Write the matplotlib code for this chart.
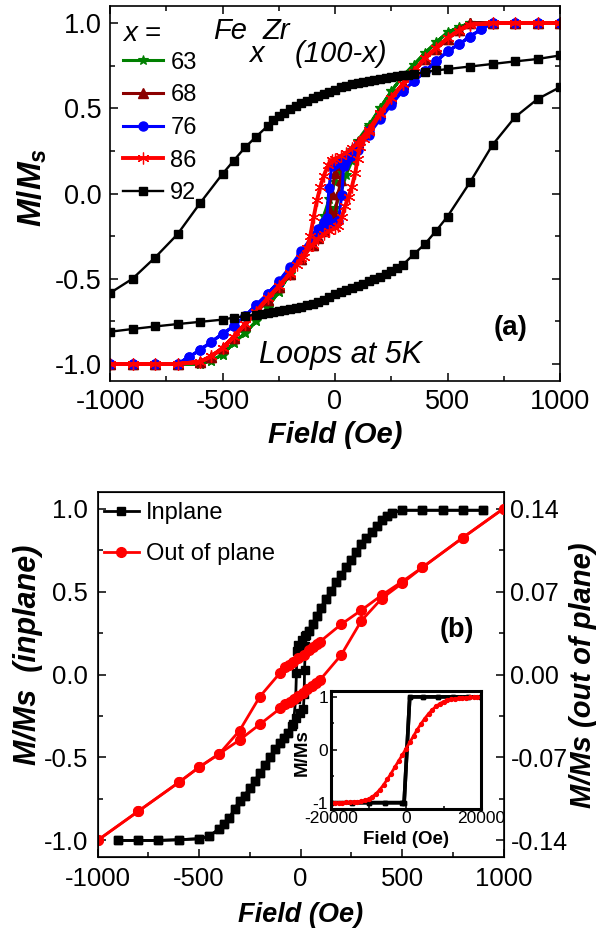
import matplotlib
matplotlib.use("Agg")
import matplotlib.pyplot as plt
from matplotlib.ticker import MultipleLocator, FixedLocator, FormatStrFormatter

plt.rcParams['font.family'] = ['Liberation Sans', 'DejaVu Sans']
plt.rcParams['axes.unicode_minus'] = False
plt.rcParams['mathtext.fontset'] = 'custom'
plt.rcParams['mathtext.it'] = 'Liberation Sans:italic:bold'
plt.rcParams['mathtext.rm'] = 'Liberation Sans:bold'
plt.rcParams['mathtext.bf'] = 'Liberation Sans:bold'

# ---------------- Panel (a) data : Fe_x Zr_(100-x) loops at 5 K ----------------
H63_dn = [1000, 900, 800, 700, 600, 550, 500, 450, 400, 350, 300, 250, 200, 150, 100, 75, 50, 25, 0,
          -25, -50, -75, -100, -150, -200, -250, -300, -350, -400, -450, -500, -550, -600, -700, -800, -900, -1000]
M63_dn = [1.0, 1.0, 1.0, 1.0, 1.0, 0.975, 0.945, 0.887, 0.824, 0.755, 0.687, 0.60, 0.50, 0.40, 0.31, 0.255, 0.20, 0.14, 0.07,
          -0.03, -0.13, -0.21, -0.27, -0.37, -0.47, -0.575, -0.67, -0.748, -0.82, -0.875, -0.947, -0.98, -1.0, -1.0, -1.0, -1.0, -1.0]
H63_up = [-1000, -900, -800, -700, -600, -550, -500, -450, -400, -350, -300, -250, -200, -150, -100, -75, -50, -25, 0,
          25, 50, 75, 100, 150, 200, 250, 300, 350, 400, 450, 500, 550, 600, 700, 800, 900, 1000]
M63_up = [-1.0, -1.0, -1.0, -1.0, -1.0, -0.98, -0.947, -0.875, -0.82, -0.748, -0.67, -0.575, -0.47, -0.38, -0.29, -0.23, -0.18, -0.13, -0.085,
          0.0, 0.11, 0.19, 0.27, 0.39, 0.50, 0.60, 0.687, 0.755, 0.824, 0.887, 0.945, 0.975, 1.0, 1.0, 1.0, 1.0, 1.0]

H68_dn = [1000, 900, 800, 700, 600, 550, 500, 450, 400, 350, 300, 250, 200, 150, 100, 75, 50, 25, 0, -15,
          -25, -37, -50, -75, -100, -150, -200, -250, -300, -350, -400, -450, -500, -550, -600, -700, -800, -900, -1000]
M68_dn = [1.0, 1.0, 1.0, 1.0, 1.0, 0.96, 0.905, 0.85, 0.79, 0.72, 0.64, 0.56, 0.47, 0.38, 0.30, 0.26, 0.22, 0.18, 0.12, 0.0,
          -0.09, -0.18, -0.215, -0.255, -0.30, -0.385, -0.47, -0.55, -0.625, -0.70, -0.77, -0.845, -0.905, -0.96, -0.99, -1.0, -1.0, -1.0, -1.0]
H68_up = [-1000, -900, -800, -700, -600, -550, -500, -450, -400, -350, -300, -250, -200, -150, -100, -75, -50, -25, 0, 15,
          25, 37, 50, 75, 100, 150, 200, 250, 300, 350, 400, 450, 500, 550, 600, 700, 800, 900, 1000]
M68_up = [-1.0, -1.0, -1.0, -1.0, -0.99, -0.96, -0.905, -0.845, -0.77, -0.70, -0.625, -0.55, -0.47, -0.385, -0.30, -0.26, -0.22, -0.18, -0.12, 0.0,
          0.08, 0.17, 0.215, 0.255, 0.30, 0.38, 0.47, 0.56, 0.64, 0.72, 0.79, 0.85, 0.905, 0.96, 1.0, 1.0, 1.0, 1.0, 1.0]

H76_dn = [1000, 900, 800, 700, 650, 600, 550, 500, 450, 400, 350, 300, 250, 200, 150, 100, 75, 50, 25, 0, -15,
          -27, -36, -50, -75, -100, -150, -200, -250, -300, -350, -400, -450, -500, -550, -600, -650, -700, -800, -900, -1000]
M76_dn = [1.0, 1.0, 1.0, 1.0, 0.965, 0.92, 0.875, 0.834, 0.775, 0.716, 0.658, 0.60, 0.53, 0.45, 0.365, 0.285, 0.25, 0.22, 0.195, 0.175, 0.16,
          0.03, -0.145, -0.17, -0.21, -0.25, -0.34, -0.43, -0.515, -0.59, -0.654, -0.72, -0.778, -0.824, -0.87, -0.918, -0.96, -1.0, -1.0, -1.0, -1.0]
H76_up = [-1000, -900, -800, -700, -650, -600, -550, -500, -450, -400, -350, -300, -250, -200, -150, -100, -75, -50, -25, 0,
          15, 30, 38, 50, 75, 100, 150, 200, 250, 300, 350, 400, 450, 500, 550, 600, 650, 700, 800, 900, 1000]
M76_up = [-1.0, -1.0, -1.0, -1.0, -0.96, -0.918, -0.87, -0.824, -0.778, -0.72, -0.654, -0.59, -0.52, -0.44, -0.355, -0.275, -0.24, -0.21, -0.19, -0.175,
          -0.16, -0.01, 0.16, 0.19, 0.22, 0.255, 0.345, 0.435, 0.52, 0.60, 0.658, 0.716, 0.775, 0.834, 0.875, 0.92, 0.965, 1.0, 1.0, 1.0, 1.0]

H86_dn = [1000, 900, 800, 700, 600, 550, 500, 450, 400, 350, 300, 250, 200, 150, 100, 75, 50, 25, 0, -15,
          -30, -50, -65, -80, -95, -110, -125, -140, -170, -200, -250, -300, -350, -400, -450, -500, -550, -600, -700, -800, -900, -1000]
M86_dn = [1.0, 1.0, 1.0, 1.0, 0.99, 0.955, 0.912, 0.853, 0.795, 0.715, 0.64, 0.56, 0.47, 0.375, 0.295, 0.265, 0.24, 0.22, 0.205, 0.195,
          0.165, 0.105, 0.04, -0.04, -0.14, -0.25, -0.32, -0.37, -0.42, -0.47, -0.545, -0.615, -0.693, -0.766, -0.84, -0.908, -0.955, -0.987, -1.0, -1.0, -1.0, -1.0]
H86_up = [-1000, -900, -800, -700, -600, -550, -500, -450, -400, -350, -300, -250, -200, -150, -100, -75, -50, -25, 0, 15,
          30, 45, 60, 75, 90, 100, 110, 130, 150, 200, 250, 300, 350, 400, 450, 500, 550, 600, 700, 800, 900, 1000]
M86_up = [-1.0, -1.0, -1.0, -1.0, -0.987, -0.955, -0.908, -0.84, -0.766, -0.693, -0.615, -0.545, -0.468, -0.38, -0.30, -0.265, -0.24, -0.22, -0.205, -0.19,
          -0.14, -0.075, -0.02, 0.04, 0.12, 0.20, 0.27, 0.32, 0.36, 0.465, 0.56, 0.64, 0.715, 0.795, 0.853, 0.912, 0.955, 0.99, 1.0, 1.0, 1.0, 1.0]

H92_dn = [1000, 900, 800, 700, 600, 500, 450, 400, 350, 325, 300, 275, 250, 225, 200, 175, 150, 125, 100, 75, 50, 25, 0,
          -25, -50, -75, -100, -125, -150, -175, -200, -225, -250, -275, -300, -350, -400, -450, -500, -600, -700, -800, -900, -1000]
M92_dn = [0.81, 0.789, 0.775, 0.76, 0.745, 0.73, 0.722, 0.713, 0.70, 0.697, 0.693, 0.688, 0.682, 0.676, 0.67, 0.665, 0.66, 0.655, 0.648, 0.64, 0.632, 0.622, 0.61,
          0.597, 0.585, 0.572, 0.558, 0.545, 0.53, 0.515, 0.495, 0.475, 0.455, 0.43, 0.395, 0.334, 0.27, 0.193, 0.115, -0.057, -0.239, -0.376, -0.50, -0.584]
H92_up = [-1000, -900, -800, -700, -600, -500, -450, -400, -350, -325, -300, -275, -250, -225, -200, -175, -150, -125, -100, -75, -50, -25, 0,
          25, 50, 75, 100, 125, 150, 175, 200, 225, 250, 275, 300, 350, 400, 450, 500, 600, 700, 800, 900, 1000]
M92_up = [-0.811, -0.795, -0.78, -0.766, -0.753, -0.74, -0.728, -0.72, -0.71, -0.706, -0.702, -0.697, -0.692, -0.686, -0.68, -0.673, -0.665, -0.657, -0.648, -0.638, -0.625, -0.61, -0.59,
          -0.578, -0.565, -0.552, -0.54, -0.528, -0.515, -0.50, -0.488, -0.47, -0.455, -0.437, -0.42, -0.357, -0.296, -0.218, -0.135, 0.066, 0.285, 0.448, 0.554, 0.624]

compositions = ['63', '68', '76', '86', '92']

# ---------------- Panel (b) data ----------------
H_in_dn = [900, 800, 700, 600, 500, 450, 425, 400, 375, 350, 325, 300, 275, 250, 225, 200, 175, 150, 125, 100, 80, 60, 40, 20, 6,
           -10, -18, -20, -24, -35, -60, -80, -100, -125, -150, -175, -200, -225, -250, -275, -300, -325, -350, -375, -400, -450, -500, -600, -700, -800, -900]
M_in_dn = [0.99, 0.99, 0.99, 0.99, 0.99, 0.975, 0.955, 0.93, 0.895, 0.86, 0.82, 0.785, 0.74, 0.69, 0.645, 0.60, 0.555, 0.505, 0.455, 0.40, 0.35, 0.305, 0.265, 0.235, 0.21,
           0.18, 0.14, 0.01, -0.15, -0.30, -0.355, -0.385, -0.415, -0.45, -0.495, -0.545, -0.595, -0.64, -0.685, -0.73, -0.765, -0.81, -0.865, -0.90, -0.93, -0.975, -0.99, -0.996, -1.0, -1.0, -1.0]
H_in_up = [-900, -800, -700, -600, -500, -450, -400, -375, -350, -325, -300, -275, -250, -225, -200, -175, -150, -125, -100, -80, -60, -40, -20, -2, 14,
           18, 20, 24, 28, 40, 60, 80, 100, 125, 150, 175, 200, 225, 250, 275, 300, 325, 350, 375, 400, 425, 450, 500, 600, 700, 800, 900]
M_in_up = [-1.0, -1.0, -1.0, -0.996, -0.99, -0.975, -0.93, -0.90, -0.865, -0.81, -0.765, -0.73, -0.685, -0.64, -0.595, -0.545, -0.495, -0.45, -0.415, -0.385, -0.355, -0.31, -0.26, -0.23, -0.21,
           -0.12, 0.03, 0.17, 0.24, 0.265, 0.305, 0.35, 0.40, 0.455, 0.505, 0.555, 0.60, 0.645, 0.69, 0.74, 0.785, 0.82, 0.86, 0.895, 0.93, 0.955, 0.975, 0.99, 0.99, 0.99, 0.99, 0.99]

H_op_dn = [1000, 800, 600, 500, 400, 300, 200, 96, 80, 60, 40, 15, -10, -35, -55, -76, -100, -200, -300, -400, -500, -600, -800, -1000]
M_op_dn = [0.140, 0.1155, 0.0903, 0.0783, 0.0669, 0.0543, 0.0423, 0.0277, 0.0256, 0.0234, 0.0206, 0.0164, 0.0136, 0.0108, 0.0080, 0.0066, 0.0015, -0.0186, -0.0473, -0.0669, -0.0783, -0.0911, -0.1155, -0.140]
H_op_up = [-1000, -800, -600, -500, -400, -300, -200, -100, -76, -52, -32, -10, 11, 30, 55, 76, 96, 200, 300, 400, 500, 600, 800, 1000]
M_op_up = [-0.140, -0.1155, -0.0911, -0.0783, -0.0669, -0.0552, -0.042, -0.0286, -0.0249, -0.0230, -0.0207, -0.0182, -0.0154, -0.0126, -0.0098, -0.0070, -0.0046, 0.0164, 0.0454, 0.0641, 0.0769, 0.0903, 0.1155, 0.140]

# inset (large field range)
Hi_blk_dn = [20000, 16500, 12500, 8500, 4500, 1000, -500, -1000, -5500, -10000, -14500, -20000]
Mi_blk_dn = [1, 1, 1, 1, 1, 1, -1, -1, -1, -1, -1, -1]
Hi_blk_up = [-20000, -14500, -10000, -5500, -1000, -500, 1000, 4500, 8500, 12500, 16500, 20000]
Mi_blk_up = [-1, -1, -1, -1, -1, -1, 1, 1, 1, 1, 1, 1]
Hi_red = [-20000, -19000, -18000, -17000, -16000, -15000, -14000, -13000, -12000, -11000, -10000, -9000, -8000, -7000,
          -6000, -5000, -4000, -3000, -2000, -1000, 0, 1000, 2000, 3000, 4000, 5000, 6000, 7000, 8000, 9000, 10000,
          11000, 12000, 13000, 14000, 15000, 16000, 17000, 18000, 19000, 20000]
Mi_red = [-1.0, -1.0, -1.0, -1.0, -0.995, -0.995, -0.99, -0.985, -0.975, -0.955, -0.93, -0.89, -0.83, -0.755,
          -0.665, -0.56, -0.45, -0.33, -0.215, -0.10, 0.02, 0.14, 0.26, 0.38, 0.49, 0.59, 0.68, 0.755, 0.82, 0.87, 0.91,
          0.935, 0.955, 0.965, 0.975, 0.98, 0.985, 0.99, 0.99, 0.99, 0.99]

W, Hh = 604, 933
fig = plt.figure(figsize=(W / 100, Hh / 100), dpi=100)

def frac(l, t, r, b):
    return [l / W, 1 - b / Hh, (r - l) / W, (b - t) / Hh]

# ---------------- Panel (a) ----------------
axA = fig.add_axes(frac(110, 6, 560, 381))
styles = {
    '63': dict(color='#008000', marker='*', ms=7.5, lw=2.2, mew=0.8),
    '68': dict(color='#8b0000', marker='^', ms=6.5, lw=2.2),
    '76': dict(color='#0000ff', marker='o', ms=6.5, lw=2.2),
    '86': dict(color='#ff0000', marker=(6, 2, 0), ms=8.5, lw=2.8, mew=0.9),
    '92': dict(color='black', marker='s', ms=5.5, lw=1.7),
}
data_a = {
    '63': (H63_dn, M63_dn, H63_up, M63_up),
    '68': (H68_dn, M68_dn, H68_up, M68_up),
    '76': (H76_dn, M76_dn, H76_up, M76_up),
    '86': (H86_dn, M86_dn, H86_up, M86_up),
}
handles = []
for c in compositions[:4]:
    hd, md, hu, mu = data_a[c]
    ln, = axA.plot(list(hd) + list(hu), list(md) + list(mu), label=c, **styles[c])
    handles.append(ln)
ln92, = axA.plot(H92_dn, M92_dn, label='92', **styles['92'])
axA.plot(H92_up, M92_up, **styles['92'])
handles.append(ln92)

axA.set_xlim(-1000, 1000)
axA.set_ylim(-1.1, 1.1)
axA.xaxis.set_major_locator(MultipleLocator(500))
axA.xaxis.set_minor_locator(MultipleLocator(250))
axA.yaxis.set_major_locator(MultipleLocator(0.5))
axA.yaxis.set_minor_locator(MultipleLocator(0.25))
axA.yaxis.set_major_formatter(FormatStrFormatter('%.1f'))
axA.tick_params(which='both', direction='in', top=True, right=True, width=1.1)
axA.tick_params(which='major', length=6, labelsize=19.5, pad=6)
axA.tick_params(which='minor', length=3.5)
for s in axA.spines.values():
    s.set_linewidth(1.2)
axA.set_xlabel('Field (Oe)', fontsize=21, fontweight='bold', style='italic')
axA.xaxis.label.set_va('center')
axA.xaxis.set_label_coords(0.5, -0.144)
axA.set_ylabel(r'$M/M_s$', fontsize=24)
axA.yaxis.label.set_rotation_mode('default')
axA.yaxis.label.set_va('center')
axA.yaxis.set_label_coords(-0.172, 0.517)

axA.legend(handles=handles, labels=compositions, loc='upper left', bbox_to_anchor=(0.029, 0.878),
           frameon=False, fontsize=17, handlelength=1.7, handletextpad=0.3, labelspacing=0.45,
           borderpad=0, borderaxespad=0)
axA.text(0.029, 0.925, 'x =', transform=axA.transAxes, fontsize=20, style='italic', va='center', ha='left')

tk = dict(transform=axA.transAxes, fontsize=21, style='italic', va='baseline', ha='left')
axA.text(0.229, 0.912, 'Fe', **tk)
axA.text(0.309, 0.851, 'x', **tk)
axA.text(0.34, 0.912, 'Zr', **tk)
axA.text(0.411, 0.851, '(100-x)', **tk)
axA.text(0.331, 0.048, 'Loops at 5K', transform=axA.transAxes, fontsize=22, style='italic', va='baseline', ha='left')
axA.text(0.853, 0.123, '(a)', transform=axA.transAxes, fontsize=20, fontweight='bold', va='baseline', ha='left')

# ---------------- Panel (b) ----------------
axB = fig.add_axes(frac(97.5, 492, 503.5, 857))
lb, = axB.plot(H_in_dn, M_in_dn, color='black', marker='s', ms=6, lw=2.0, label='Inplane')
axB.plot(H_in_up, M_in_up, color='black', marker='s', ms=6, lw=2.0)
axB.set_xlim(-1000, 1000)
axB.set_ylim(-1.1, 1.1)
axB.xaxis.set_major_locator(MultipleLocator(500))
axB.xaxis.set_minor_locator(MultipleLocator(250))
axB.yaxis.set_major_locator(MultipleLocator(0.5))
axB.yaxis.set_minor_locator(MultipleLocator(0.25))
axB.yaxis.set_major_formatter(FormatStrFormatter('%.1f'))
axB.tick_params(which='both', direction='in', top=False, right=False, width=1.1)
axB.tick_params(which='major', length=6, labelsize=18.5, pad=7)
axB.tick_params(which='minor', length=3.5)
for s in axB.spines.values():
    s.set_linewidth(1.2)
axB.set_xlabel('Field (Oe)', fontsize=19.5, fontweight='bold', style='italic')
axB.xaxis.label.set_va('center')
axB.xaxis.set_label_coords(0.5, -0.159)
axB.set_ylabel('M/Ms  (inplane)', fontsize=22, fontweight='bold', style='italic')
axB.yaxis.label.set_rotation_mode('default')
axB.yaxis.label.set_va('center')
axB.yaxis.set_label_coords(-0.172, 0.553)

axB2 = axB.twinx()
lr, = axB2.plot(H_op_dn, M_op_dn, color='#ff0000', marker='o', ms=7, lw=2.0, label='Out of plane')
axB2.plot(H_op_up, M_op_up, color='#ff0000', marker='o', ms=7, lw=2.0)
axB2.set_ylim(-0.154, 0.154)
axB2.yaxis.set_major_locator(FixedLocator([-0.14, -0.07, 0.0, 0.07, 0.14]))
axB2.yaxis.set_minor_locator(FixedLocator([-0.105, -0.035, 0.035, 0.105]))
axB2.yaxis.set_major_formatter(FormatStrFormatter('%.2f'))
axB2.tick_params(which='both', direction='in', width=1.1)
axB2.tick_params(which='major', length=6, labelsize=18, pad=5)
axB2.tick_params(which='minor', length=3.5)
axB2.set_ylabel('M/Ms (out of plane)', fontsize=21, fontweight='bold', style='italic')
axB2.yaxis.label.set_rotation(90)
axB2.yaxis.label.set_rotation_mode('default')
axB2.yaxis.label.set_va('center')
axB2.yaxis.set_label_coords(1.197, 0.499)

axB2.legend(handles=[lb, lr], loc='upper left', bbox_to_anchor=(0.015, 0.972), frameon=False, fontsize=17,
            handlelength=1.5, handletextpad=0.3, labelspacing=0.8, borderpad=0, borderaxespad=0)
axB2.text(0.8436, 0.603, '(b)', transform=axB.transAxes, fontsize=19.5, fontweight='bold', va='baseline', ha='left')

# ---------------- Inset ----------------
axI = fig.add_axes(frac(331, 691, 481, 808.5))
axI.plot(Hi_blk_dn, Mi_blk_dn, color='black', marker='s', ms=2.5, lw=2.6)
axI.plot(Hi_blk_up, Mi_blk_up, color='black', marker='s', ms=2.5, lw=2.6)
axI.plot(Hi_red, Mi_red, color='#ff0000', marker='o', ms=2.8, lw=2.0)
axI.set_xlim(-20000, 20000)
axI.set_ylim(-1.11, 1.11)
axI.xaxis.set_major_locator(FixedLocator([-20000, 0, 20000]))
axI.xaxis.set_minor_locator(FixedLocator([-10000, 10000]))
axI.yaxis.set_major_locator(FixedLocator([-1, 0, 1]))
axI.yaxis.set_minor_locator(FixedLocator([-0.5, 0.5]))
axI.tick_params(which='both', direction='in', width=1.1)
axI.tick_params(which='major', length=4, labelsize=12.5, pad=2)
axI.tick_params(which='minor', length=2.5)
for s in axI.spines.values():
    s.set_linewidth(2.2)
axI.set_xlabel('Field (Oe)', fontsize=13.5, fontweight='bold')
axI.xaxis.label.set_va('center')
axI.xaxis.set_label_coords(0.5, -0.268)
axI.set_ylabel('M/Ms', fontsize=13.5, fontweight='bold')
axI.yaxis.label.set_rotation_mode('default')
axI.yaxis.label.set_va('center')
axI.yaxis.set_label_coords(-0.193, 0.48)

fig.savefig('out.png', dpi=100)
